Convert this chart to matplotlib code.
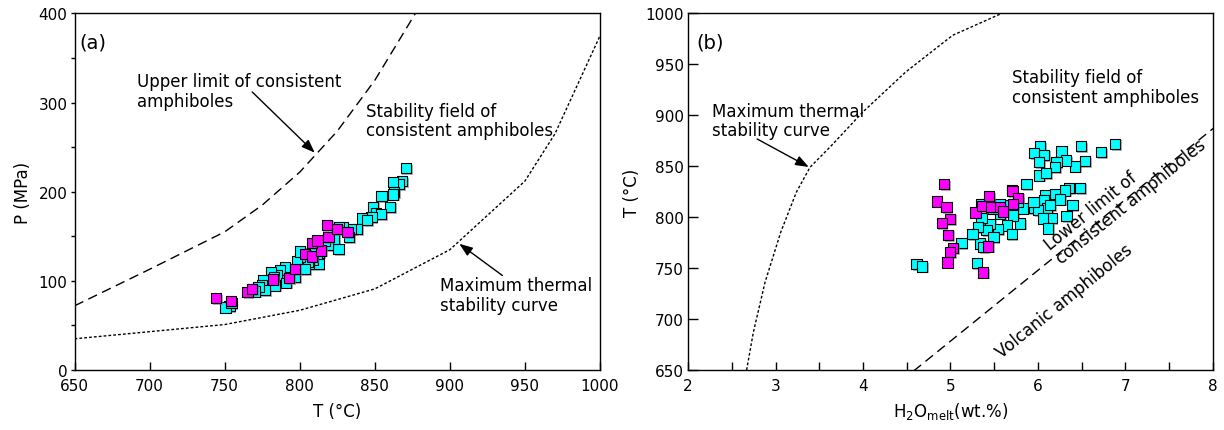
import matplotlib
matplotlib.use('Agg')
from matplotlib import pyplot as plt
import matplotlib.patheffects as pe
from matplotlib.ticker import MultipleLocator

plt.rcParams['font.family'] = ['DejaVu Sans']

# ---- panel (a): T vs P ----
upper_T = [650, 700, 750, 775, 800, 825, 850, 877]
upper_P = [72, 113, 155, 185, 222, 268, 325, 400]
maxcurve_T = [650, 750, 800, 850, 900, 950, 970, 1000]
maxcurve_P = [35, 51, 67, 91, 135, 212, 265, 375]

cyan_T = [870.7, 868, 866, 862, 862.7, 862, 854.4, 860, 849, 851, 854, 847.8, 841.5, 845,
          838, 834, 832.6, 829, 825.9, 823, 826, 819, 814, 813, 811.4, 812.6, 809, 805.9,
          805.6, 800.3, 798, 803.7, 796, 790.3, 787, 788, 785, 783.7, 781, 775.9, 775, 777,
          772.6, 770, 768, 753.3, 750.5, 754.5, 800, 808, 817, 797, 791, 783]
cyan_P = [226.6, 212, 209, 211, 200, 197, 195, 183, 183, 176, 175, 172, 170, 168,
          158, 158, 149, 160, 136, 147, 160, 140, 145, 132, 128.5, 119, 124, 119,
          121, 126.6, 122, 113.4, 110, 115.3, 112, 100.4, 106, 94.8, 110, 100.4, 95, 90,
          92.9, 88, 91, 72, 70, 75, 133, 135, 145, 104, 98, 104]
mag_T = [744.4, 754, 765.2, 768.1, 782.1, 793, 797, 803.7, 808.1, 814.3, 808.1, 811.9,
         819.2, 818.1, 824.8, 831.9]
mag_P = [80.4, 77.4, 87.3, 91, 101.5, 103, 113.4, 130.3, 127.3, 134, 142.7, 145.3,
         149, 162.9, 158.4, 154.7]

# ---- panel (b): H2O vs T ----
maxb_H = [2.67, 2.746, 2.88, 3.059, 3.238, 3.394, 3.64, 3.997, 4.489, 5.025, 5.584]
maxb_T = [650, 686.7, 736, 785.1, 824.5, 849, 870.4, 903.2, 942.6, 978.6, 1000]
lower_H = [4.578, 8.02]
lower_T = [649, 888.4]

cyan_H = [4.613, 4.678, 5.299, 6.023, 5.958, 6.072, 6.27, 6.491, 6.72, 6.88, 6.537, 6.422,
          6.32, 6.213, 6.194, 6.015, 6.015, 6.091, 5.87, 6.48, 6.358, 6.308, 6.194, 6.08,
          6.251, 6.068, 5.954, 6.396, 6.106, 6.003, 6.327, 6.156, 6.06, 6.118, 5.832, 5.794,
          5.699, 5.68, 5.566, 5.718, 5.642, 5.699, 5.546, 5.451, 5.405, 5.356, 5.356, 5.413,
          5.49, 5.337, 5.318, 5.253, 5.127, 5.375, 5.566, 5.49, 5.775, 5.95, 6.14]
cyan_Tb = [754.1, 751.5, 755.1, 869.6, 863.1, 861.1, 864.4, 869.6, 863.8, 872, 855, 849.8,
           855.7, 854, 849.1, 854, 841, 843.2, 832.8, 828.9, 828.9, 826.3, 823, 821.4,
           817.4, 817.1, 808.9, 812.2, 808.6, 807, 801.1, 799.4, 798.8, 789, 808.6, 793.9,
           827, 811.6, 813.3, 801.8, 792, 783.8, 788.7, 793.6, 813.3, 813.3, 799.4, 787.2,
           780.6, 774.1, 790.4, 783.8, 774.7, 770.8, 803.5, 808.5, 815, 815, 812]
mag_H = [4.929, 4.842, 4.956, 4.994, 4.899, 4.975, 5.032, 4.994, 4.967, 5.375, 5.432,
         5.287, 5.367, 5.443, 5.459, 5.566, 5.604, 5.71, 5.775, 5.718]
mag_Tb = [832.3, 815.3, 809.7, 798.3, 794, 782.6, 769.5, 765.6, 755.4, 745.6, 771.1,
          804.5, 811, 820.8, 809.7, 809.7, 805.5, 825.9, 819.2, 813.3]

shadow = [pe.SimplePatchShadow(offset=(1.2, -1.2), shadow_rgbFace='gray', alpha=0.6), pe.Normal()]
msize = 55
fs_tick = 11
fs_text = 12

fig = plt.figure(figsize=(12.24, 4.31), dpi=100)
ax1 = fig.add_axes([0.0609, 0.1392, 0.4293, 0.8272])
ax2 = fig.add_axes([0.5621, 0.1392, 0.4289, 0.8272])

# panel (a)
ax1.plot(upper_T, upper_P, color='black', lw=1, dashes=(7, 4))
ax1.plot(maxcurve_T, maxcurve_P, color='black', lw=1, dashes=(2, 1.5))
ax1.scatter(cyan_T, cyan_P, s=msize, marker='s', c='#00FFFF', edgecolors='black',
            linewidths=0.8, path_effects=shadow, zorder=3)
ax1.scatter(mag_T, mag_P, s=msize, marker='s', c='#FF00FF', edgecolors='black',
            linewidths=0.8, path_effects=shadow, zorder=4)
ax1.set_xlim(650, 1000)
ax1.set_ylim(0, 400)
ax1.xaxis.set_major_locator(MultipleLocator(50))
ax1.yaxis.set_major_locator(MultipleLocator(100))
ax1.yaxis.set_minor_locator(MultipleLocator(50))
ax1.tick_params(axis='x', direction='in', length=6, width=1, labelsize=fs_tick, pad=6)
ax1.tick_params(axis='y', which='both', direction='out', length=3, width=1, labelsize=fs_tick, pad=2)
ax1.set_xlabel('T (°C)', fontsize=fs_text, labelpad=6)
ax1.set_ylabel('P (MPa)', fontsize=fs_text, labelpad=5)
ax1.text(653.5, 368, '(a)', fontsize=14, va='center')
ax1.text(691.5, 313, 'Upper limit of consistent\namphiboles', fontsize=fs_text, va='center')
ax1.text(844, 280, 'Stability field of\nconsistent amphiboles', fontsize=fs_text,
         va='center', linespacing=1.1)
ax1.text(893.5, 84, 'Maximum thermal\nstability curve', fontsize=fs_text, va='center',
         linespacing=1.1)
arrow = dict(arrowstyle='-|>,head_length=0.8,head_width=0.3', color='black', lw=1,
             shrinkA=0, shrinkB=0)
ax1.annotate('', xy=(810, 243.8), xytext=(768.3, 312), arrowprops=arrow)
ax1.annotate('', xy=(906.3, 141.6), xytext=(935, 106), arrowprops=arrow)

# panel (b)
ax2.plot(maxb_H, maxb_T, color='black', lw=1, dashes=(2, 1.5))
ax2.plot(lower_H, lower_T, color='black', lw=1, dashes=(7, 4))
ax2.scatter(cyan_H, cyan_Tb, s=msize, marker='s', c='#00FFFF', edgecolors='black',
            linewidths=0.8, path_effects=shadow, zorder=3)
ax2.scatter(mag_H, mag_Tb, s=msize, marker='s', c='#FF00FF', edgecolors='black',
            linewidths=0.8, path_effects=shadow, zorder=4)
ax2.set_xlim(2, 8)
ax2.set_ylim(650, 1000)
ax2.xaxis.set_major_locator(MultipleLocator(1))
ax2.xaxis.set_minor_locator(MultipleLocator(0.5))
ax2.yaxis.set_major_locator(MultipleLocator(50))
ax2.tick_params(axis='x', which='both', direction='in', length=6, width=1, labelsize=fs_tick, pad=6)
ax2.tick_params(axis='y', direction='in', length=7, width=1, labelsize=fs_tick, pad=3)
ax2.set_xlabel(r'H$_2$O$_{\rm melt}$(wt.%)', fontsize=fs_text, labelpad=5)
ax2.set_ylabel('T (°C)', fontsize=fs_text, labelpad=3)
ax2.text(2.1, 972, '(b)', fontsize=14, va='center')
ax2.text(2.27, 895, 'Maximum thermal\nstability curve', fontsize=fs_text, va='center',
         linespacing=1.1)
ax2.text(5.70, 928, 'Stability field of\nconsistent amphiboles', fontsize=fs_text,
         va='center', linespacing=1.1)
ax2.annotate('', xy=(3.38, 849.3), xytext=(2.79, 876.8), arrowprops=arrow)
ax2.text(6.137, 768, 'Lower limit of', fontsize=fs_text, rotation=39,
         rotation_mode='anchor', ha='left', va='baseline')
ax2.text(6.274, 754, 'consistent amphiboles', fontsize=fs_text, rotation=39,
         rotation_mode='anchor', ha='left', va='baseline')
ax2.text(5.58, 662, 'Volcanic amphiboles', fontsize=fs_text, rotation=39,
         rotation_mode='anchor', ha='left', va='baseline')

for ax in (ax1, ax2):
    for sp in ax.spines.values():
        sp.set_linewidth(1)

fig.savefig('out.png', dpi=100)
